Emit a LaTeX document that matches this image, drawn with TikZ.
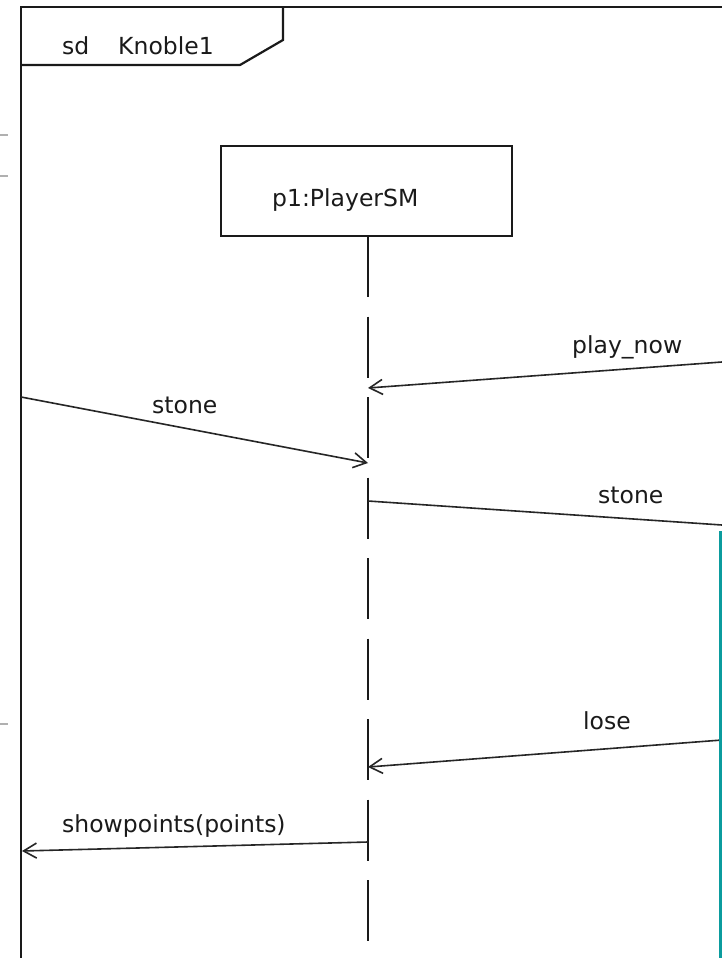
\documentclass[tikz,border=0pt]{standalone}
\usepackage{fontspec}
\setmainfont{DejaVu Sans}
\usetikzlibrary{arrows.meta}
\definecolor{ink}{HTML}{1A1A1A}
\definecolor{msgink}{HTML}{262626}
\definecolor{tealedge}{HTML}{0B9C9E}
\definecolor{scrap}{HTML}{B0B0B0}
\begin{document}
\begin{tikzpicture}[x=1pt,y=-1pt,
  frameline/.style={draw=ink,line width=2.2pt},
  lifebox/.style={draw=ink,line width=2.2pt,rectangle,inner sep=0pt,minimum width=291pt,minimum height=90pt},
  lifeline/.style={draw=ink,line width=2.2pt,dash pattern=on 61pt off 19.5pt},
  msg/.style={draw=msgink,line width=1.6pt},
  msgarrow/.style={msg,-{Straight Barb[length=13pt,width=15pt,line width=1.6pt]}},
  txt/.style={anchor=base west,inner sep=0pt,text=ink,font=\fontsize{23.5}{26}\selectfont}]
  \useasboundingbox (0,0) rectangle (722,958);
  \fill[white] (0,0) rectangle (722,958);

  % leftover ruling from the neighbouring page
  \draw[scrap,line width=1.8pt] (0,135) -- (8,135);
  \draw[scrap,line width=1.8pt] (0,176) -- (8,176);
  \draw[scrap,line width=1.8pt] (0,724) -- (8,724);

  % sequence diagram frame with its name tab
  \coordinate (frameTL) at (21,7);
  \coordinate (frameTR) at (722,7);
  \coordinate (frameBL) at (21,958);
  \draw[frameline] (frameBL) -- (frameTL) -- (frameTR);
  \draw[frameline] (21,65) -- (240,65) -- (283,40) -- (283,7);
  \node[txt] (sd) at (62,55) {sd};
  \node[txt] (name) at (118,55) {Knoble1};

  % lifeline head and dashed lifeline
  \node[lifebox] (p1) at (366.5,191) {};
  \node[txt] (p1name) at (272,206) {p1:PlayerSM};
  \coordinate (lifeEnd) at (368,945);
  \draw[lifeline] (368,236) -- (lifeEnd);

  % message anchors
  \coordinate (inPlayR) at (722,362);
  \coordinate (inPlayL) at (368,388);
  \coordinate (inStoneL) at (21,397);
  \coordinate (inStoneR) at (368,463);
  \coordinate (outStoneL) at (368,501);
  \coordinate (outStoneR) at (722,525);
  \coordinate (inLoseR) at (722,740);
  \coordinate (inLoseL) at (368,767);
  \coordinate (outShowR) at (368,842);
  \coordinate (outShowL) at (22,851);

  % messages
  \draw[msgarrow] (inPlayR) -- (inPlayL);
  \node[txt] (lPlay) at (572,353) {play\_now};
  \draw[msgarrow] (inStoneL) -- (inStoneR);
  \node[txt] (lStone1) at (152,413) {stone};
  \draw[msg] (outStoneL) -- (outStoneR);
  \node[txt] (lStone2) at (598,503) {stone};
  \draw[msgarrow] (inLoseR) -- (inLoseL);
  \node[txt] (lLose) at (583,729) {lose};
  \draw[msgarrow] (outShowR) -- (outShowL);
  \node[txt] (lShow) at (62,832) {showpoints(points)};

  % teal edge on the right
  \coordinate (tealTop) at (720.5,531);
  \coordinate (tealBot) at (720.5,958);
  \draw[tealedge,line width=2.6pt] (tealTop) -- (tealBot);
\end{tikzpicture}
\end{document}
